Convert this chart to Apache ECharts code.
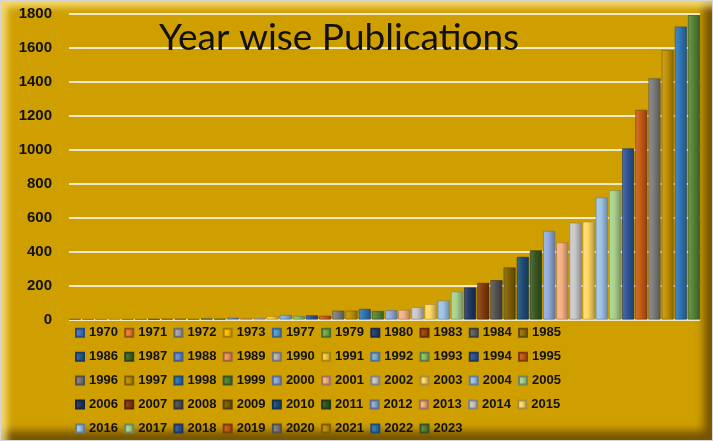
<!DOCTYPE html>
<html><head><meta charset="utf-8">
<script src="https://cdn.jsdelivr.net/npm/echarts@6/dist/echarts.min.js"></script>
<style>
html,body{margin:0;padding:0;background:#fff;overflow:hidden;}
#frame{position:absolute;left:0;top:0;width:711px;height:439px;border:1px solid #d6d6d6;background:#CF9F00;
 box-shadow: inset 6px 6px 7px rgba(255,232,140,0.8), inset -8px -9px 9px rgba(85,58,0,0.75);}
#chart{position:absolute;left:0;top:0;width:713px;height:441px;}
</style></head>
<body><div id="frame"></div><div id="chart"></div>
<script>
const years = ['1970','1971','1972','1973','1977','1979','1980','1983','1984','1985',
  '1986','1987','1988','1989','1990','1991','1992','1993','1994','1995',
  '1996','1997','1998','1999','2000','2001','2002','2003','2004','2005',
  '2006','2007','2008','2009','2010','2011','2012','2013','2014','2015',
  '2016','2017','2018','2019','2020','2021','2022','2023'];
const publications = [2,1,1,2,1,1,2,3,3,2,
  5,3,10,6,8,20,27,20,24,22,
  52,52,62,50,54,56,72,90,111,164,
  188,215,231,306,368,406,521,453,569,575,
  717,760,1006,1233,1418,1584,1723,1790];
const yTicks = [0,200,400,600,800,1000,1200,1400,1600,1800];
const titleText = 'Year wise Publications';

const palette = ['#4472C4','#ED7D31','#A5A5A5','#FFC000','#5B9BD5','#70AD47',
  '#264478','#9E480E','#636363','#997300','#255E91','#43682B',
  '#698ED0','#F1975A','#B7B7B7','#FFCD33','#7CAFDD','#8CC168',
  '#2F5597','#C55A11','#7B7B7B','#BF9000','#2E75B6','#548235',
  '#8FAADC','#F4B183','#C9C9C9','#FFD966','#9DC3E6','#A9D18E',
  '#203864','#843C0C','#525252','#7F6000','#1F4E79','#385723',
  '#8FAADC','#F4B183','#C9C9C9','#FFD966','#9DC3E6','#A9D18E',
  '#2F5597','#C55A11','#7B7B7B','#BF9000','#2E75B6','#548235'];

function shade(hex, f){
  const n=parseInt(hex.slice(1),16);
  let r=n>>16,g=(n>>8)&255,b=n&255;
  if(f<0){r=r*(1+f);g=g*(1+f);b=b*(1+f);}else{r=r+(255-r)*f;g=g+(255-g)*f;b=b+(255-b)*f;}
  return 'rgb('+Math.round(r)+','+Math.round(g)+','+Math.round(b)+')';
}

const series = years.map((y,i)=>({
  name: y,
  type: 'bar',
  data: [publications[i]],
  barGap: '10%',
  barCategoryGap: '0%',
  itemStyle: {
    color: new echarts.graphic.LinearGradient(0,0,1,0,[
      {offset:0,color:shade(palette[i],0.15)},
      {offset:0.45,color:palette[i]},
      {offset:1,color:shade(palette[i],-0.3)}]),
    borderColor: shade(palette[i],-0.35),
    borderWidth: 0.6
  },
  emphasis:{disabled:true}
}));

const chart = echarts.init(document.getElementById('chart'));
chart.setOption({
  animation:false,
  backgroundColor:'transparent',
  title:{
    text:titleText, left:154, top:15,
    textStyle:{fontFamily:'Lato, "Open Sans", sans-serif', fontSize:37, fontWeight:'normal', color:'#111'}
  },
  grid:{left:69, right:13, top:13.5, bottom:121.5},
  xAxis:{type:'category', data:[''], axisLine:{show:false}, axisTick:{show:false}, axisLabel:{show:false}},
  yAxis:{type:'value', min:yTicks[0], max:yTicks[yTicks.length-1], interval:200,
    axisLine:{show:false}, axisTick:{show:false},
    axisLabel:{margin:17, color:'#111', fontWeight:'bold', fontSize:15, formatter:(v)=>String(v),
      fontFamily:'"Liberation Sans", Arial, sans-serif'},
    splitLine:{lineStyle:{color:'#F3EAC9', width:2}}
  },
  legend:{
    left:75, top:324, width:500, orient:'horizontal', padding:0,
    itemWidth:8, itemHeight:8, itemGap:6.3,
    icon:'rect',
    textStyle:{color:'#111', fontWeight:'bold', fontSize:13, lineHeight:17.6,
      fontFamily:'"Liberation Sans", Arial, sans-serif'},
    data: years
  },
  series: series
});
</script>
</body></html>
